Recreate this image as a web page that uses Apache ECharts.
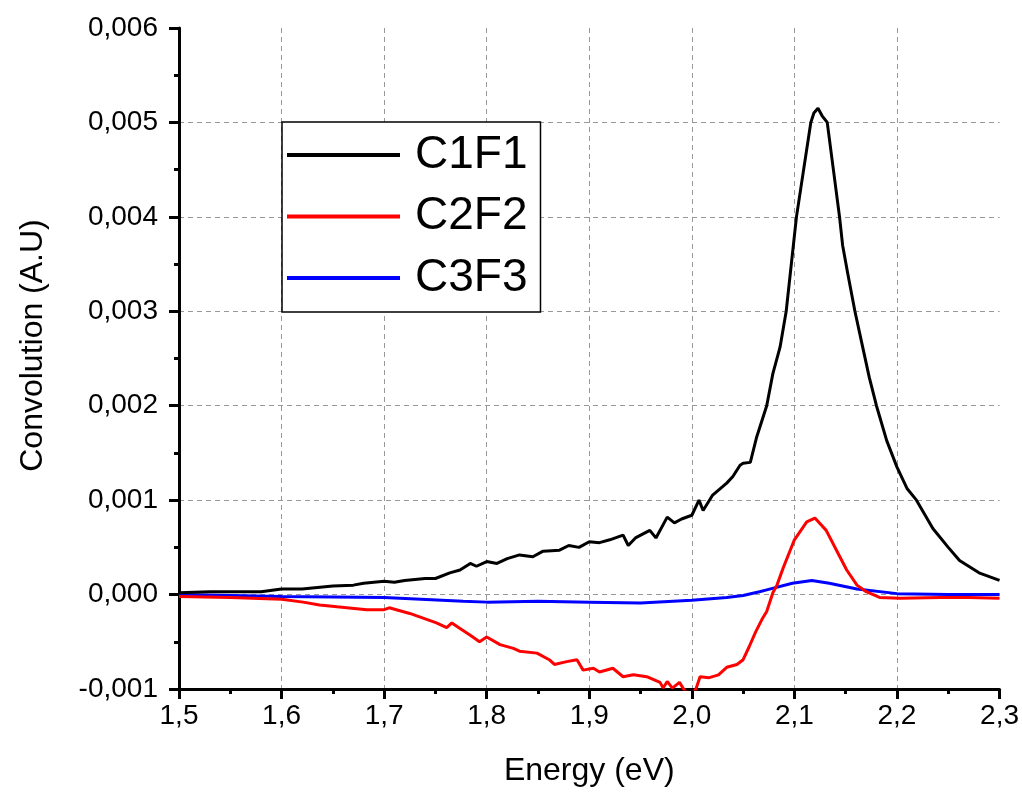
<!DOCTYPE html>
<html>
<head>
<meta charset="utf-8">
<script src="https://cdn.jsdelivr.net/npm/echarts@6/dist/echarts.min.js"></script>
<style>html,body{margin:0;padding:0;background:#fff}#c{width:1022px;height:794px}</style>
</head>
<body>
<div id="c"></div>
<script>
var seriesNames = ['C1F1', 'C2F2', 'C3F3'];
var seriesColors = ['#000000', '#ff0000', '#0000ff'];

var energyC1 = [1.50,1.53,1.55,1.58,1.60,1.62,1.64,1.65,1.67,1.68,1.70,1.71,1.72,1.74,1.75,1.764,1.774,1.784,1.79,1.80,1.81,1.82,1.832,1.845,1.855,1.871,1.88,1.89,1.90,1.91,1.92,1.933,1.938,1.945,1.959,1.965,1.976,1.983,1.99,2.00,2.007,2.011,2.02,2.034,2.04,2.047,2.05,2.057,2.063,2.073,2.079,2.086,2.092,2.102,2.109,2.116,2.119,2.123,2.127,2.132,2.138,2.144,2.147,2.152,2.159,2.166,2.173,2.18,2.19,2.20,2.21,2.219,2.235,2.25,2.261,2.28,2.30];
var valuesC1 = [0.00002,0.00003,0.00003,0.00003,0.00006,0.00006,0.00008,0.00009,0.00010,0.00012,0.00014,0.00013,0.00015,0.00017,0.00017,0.00023,0.00026,0.00033,0.00030,0.00035,0.00033,0.00038,0.00042,0.00040,0.00046,0.00047,0.00052,0.00050,0.00056,0.00055,0.00058,0.00063,0.00052,0.00060,0.00068,0.00060,0.00082,0.00076,0.00080,0.00084,0.00100,0.00089,0.00105,0.00118,0.00125,0.00137,0.00139,0.00140,0.00166,0.00200,0.00234,0.00262,0.00300,0.00400,0.00450,0.00500,0.00510,0.00515,0.00507,0.00500,0.00450,0.00400,0.00370,0.00340,0.00300,0.00265,0.00230,0.00200,0.00163,0.00135,0.00112,0.00100,0.00070,0.00050,0.00036,0.00023,0.00015];

var energyC2 = [1.50,1.55,1.60,1.621,1.637,1.654,1.683,1.70,1.705,1.725,1.738,1.751,1.761,1.766,1.774,1.784,1.793,1.80,1.813,1.826,1.832,1.849,1.861,1.866,1.878,1.888,1.894,1.904,1.91,1.923,1.933,1.943,1.956,1.969,1.972,1.976,1.981,1.988,1.993,2.000,2.004,2.008,2.017,2.026,2.034,2.044,2.05,2.056,2.062,2.069,2.073,2.079,2.083,2.089,2.10,2.112,2.12,2.131,2.141,2.151,2.161,2.17,2.183,2.203,2.242,2.27,2.30];
var valuesC2 = [-0.00002,-0.00003,-0.00005,-0.00008,-0.00011,-0.00013,-0.00016,-0.00016,-0.00014,-0.00020,-0.00025,-0.00030,-0.00035,-0.00030,-0.00036,-0.00043,-0.00050,-0.00045,-0.00053,-0.00057,-0.00060,-0.00062,-0.00069,-0.00074,-0.00071,-0.00069,-0.00080,-0.00078,-0.00082,-0.00078,-0.00087,-0.00085,-0.00087,-0.00093,-0.00099,-0.00092,-0.00099,-0.00093,-0.00102,-0.00105,-0.00100,-0.00087,-0.00088,-0.00085,-0.00077,-0.00074,-0.00069,-0.00055,-0.00040,-0.00025,-0.00018,0.00002,0.00010,0.00028,0.00058,0.00077,0.00081,0.00068,0.00047,0.00026,0.00010,0.00003,-0.00003,-0.00004,-0.00003,-0.00003,-0.00004];

var energyC3 = [1.50,1.60,1.70,1.777,1.80,1.85,1.90,1.95,2.00,2.034,2.05,2.066,2.073,2.098,2.117,2.134,2.161,2.20,2.25,2.30];
var valuesC3 = [0.00000,-0.00002,-0.00003,-0.00007,-0.00008,-0.00007,-0.00008,-0.00009,-0.00006,-0.00003,-0.00001,0.00003,0.00005,0.00012,0.00015,0.00012,0.00006,0.00001,0.00000,0.00000];

var xTitle = 'Energy (eV)';
var yTitle = 'Convolution (A.U)';

function pairs(xs, ys) { return xs.map(function (x, i) { return [x, ys[i]]; }); }
var allData = [pairs(energyC1, valuesC1), pairs(energyC2, valuesC2), pairs(energyC3, valuesC3)];

var font = '"Liberation Sans", Arial, sans-serif';
var chart = echarts.init(document.getElementById('c'), null, { renderer: 'canvas' });
chart.setOption({
  animation: false,
  backgroundColor: '#fff',
  grid: { left: 179, right: 22, top: 28, bottom: 105, containLabel: false },
  legend: {
    orient: 'vertical', left: 282, top: 122,
    padding: [10, 13, 11, 5],
    itemGap: 15.5, itemWidth: 113, itemHeight: 4, icon: 'rect',
    borderColor: '#000', borderWidth: 1.5, backgroundColor: '#fff',
    textStyle: { fontFamily: font, fontSize: 46, color: '#000', lineHeight: 46, padding: [0, 0, 0, 10] },
    data: seriesNames
  },
  xAxis: {
    type: 'value', min: 1.5, max: 2.3, interval: 0.1,
    name: xTitle, nameLocation: 'middle', nameGap: 66,
    nameTextStyle: { fontFamily: font, fontSize: 32, color: '#000' },
    axisLine: { show: true, onZero: false, lineStyle: { color: '#000', width: 3 } },
    axisTick: { show: true, inside: false, length: 10, lineStyle: { color: '#000', width: 3 } },
    minorTick: { show: true, splitNumber: 2, length: 5, lineStyle: { color: '#000', width: 3 } },
    axisLabel: { fontFamily: font, fontSize: 28, color: '#000', margin: 13,
      formatter: function (v) { return v.toFixed(1).replace('.', ','); } },
    splitLine: { show: true, showMinLine: false, showMaxLine: false, lineStyle: { color: '#999', type: [5, 4], width: 1 } }
  },
  yAxis: {
    type: 'value', min: -0.001, max: 0.006, interval: 0.001,
    name: yTitle, nameLocation: 'middle', nameGap: 130, nameRotate: 90,
    nameTextStyle: { fontFamily: font, fontSize: 32, color: '#000', padding: [0, 0, 0, 26] },
    axisLine: { show: true, onZero: false, lineStyle: { color: '#000', width: 3 } },
    axisTick: { show: true, inside: false, length: 10, lineStyle: { color: '#000', width: 3 } },
    minorTick: { show: true, splitNumber: 2, length: 5, lineStyle: { color: '#000', width: 3 } },
    axisLabel: { fontFamily: font, fontSize: 28, color: '#000', margin: 21,
      formatter: function (v) { return v.toFixed(3).replace('.', ','); } },
    splitLine: { show: true, showMinLine: false, showMaxLine: false, lineStyle: { color: '#999', type: [5, 4], width: 1 } }
  },
  series: seriesNames.map(function (n, i) {
    return {
      name: n, type: 'line', data: allData[i], showSymbol: false, symbol: 'none',
      clip: true, z: 5 - i,
      itemStyle: { color: seriesColors[i] },
      lineStyle: { color: seriesColors[i], width: 3 }
    };
  })
});
</script>
</body>
</html>
